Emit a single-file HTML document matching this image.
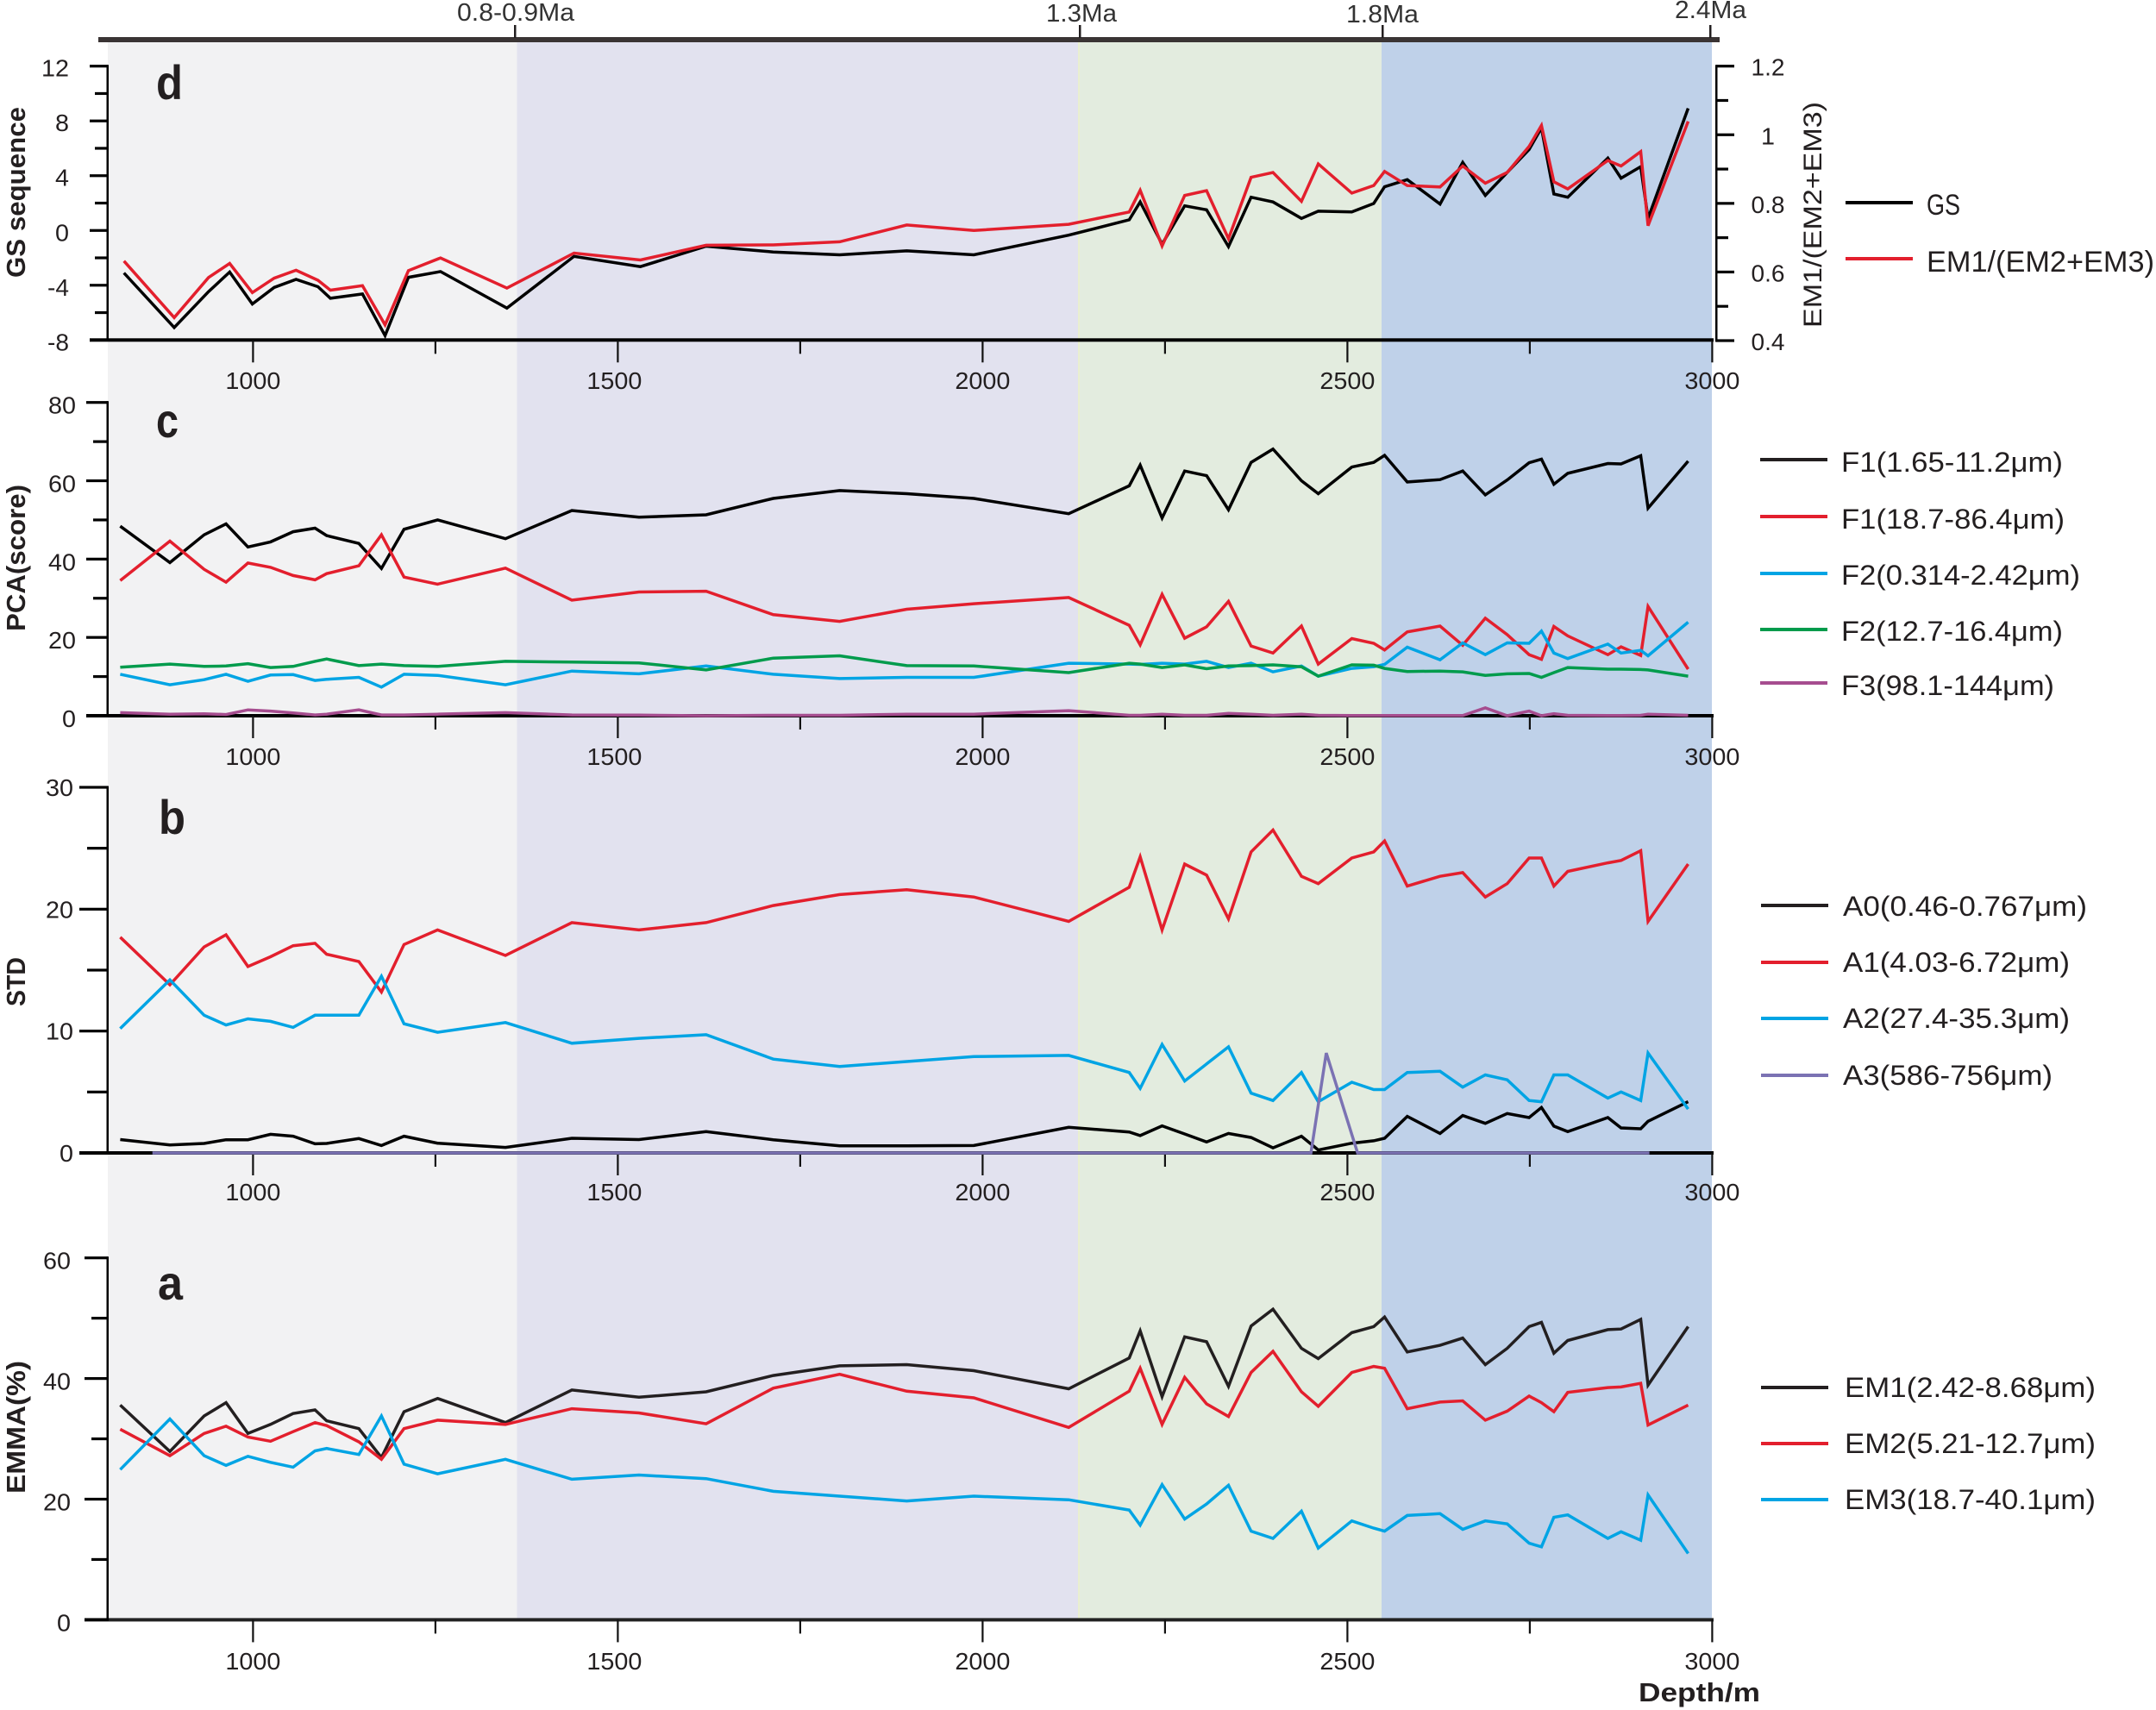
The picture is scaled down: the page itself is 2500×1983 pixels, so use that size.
<!DOCTYPE html>
<html lang="en">
<head>
<meta charset="utf-8">
<title>Grain size proxies versus depth</title>
<style>
html,body{margin:0;padding:0;background:#fff;}
svg{display:block;}
text{font-family:"Liberation Sans",sans-serif;fill:#231f20;}
.title{font-weight:bold;font-size:31px;}
.panel-letter{font-weight:bold;font-size:56px;}
.legend-text{font-size:32px;}
.top-label{font-size:29px;fill:#333;}
</style>
</head>
<body>
<svg id="chart" xmlns="http://www.w3.org/2000/svg" width="2500" height="1983" viewBox="0 0 2500 1983">
  <g>
    <rect x="125" y="49" width="474.5" height="1828" fill="#f2f2f3"/>
    <rect x="599.5" y="49" width="650.5" height="1828" fill="#e2e2ef"/>
    <rect x="1250" y="49" width="352" height="1828" fill="#e3ecdf"/>
    <rect x="1250" y="49" width="2" height="1828" fill="#e9efd0"/>
    <rect x="1602" y="49" width="383" height="1828" fill="#bfd1e9"/>
  </g>
  <g>
    <rect x="114" y="43" width="1880" height="6" fill="#3a3434"/>
    <rect x="596" y="29" width="2.5" height="15" fill="#231f20"/>
    <rect x="1251" y="29" width="2.5" height="15" fill="#231f20"/>
    <rect x="1602" y="29" width="2.5" height="15" fill="#231f20"/>
    <rect x="1982" y="29" width="2.5" height="15" fill="#231f20"/>
    <text class="top-label" x="530" y="24" textLength="136" lengthAdjust="spacingAndGlyphs">0.8-0.9Ma</text>
    <text class="top-label" x="1213" y="25" textLength="82" lengthAdjust="spacingAndGlyphs">1.3Ma</text>
    <text class="top-label" x="1561" y="26" textLength="84" lengthAdjust="spacingAndGlyphs">1.8Ma</text>
    <text class="top-label" x="1942" y="21" textLength="83" lengthAdjust="spacingAndGlyphs">2.4Ma</text>
  </g>
  <g id="plot-layer"></g>
  <g>
    <text class="title" transform="translate(29,322) rotate(-90)" textLength="198" lengthAdjust="spacingAndGlyphs">GS sequence</text>
    <text class="title" transform="translate(29,732) rotate(-90)" textLength="170" lengthAdjust="spacingAndGlyphs">PCA(score)</text>
    <text class="title" transform="translate(29,1167) rotate(-90)" textLength="57" lengthAdjust="spacingAndGlyphs">STD</text>
    <text class="title" transform="translate(29,1732) rotate(-90)" textLength="154" lengthAdjust="spacingAndGlyphs">EMMA(%)</text>
    <text font-size="30" transform="translate(2112,380) rotate(-90)" textLength="262" lengthAdjust="spacingAndGlyphs">EM1/(EM2+EM3)</text>
    <text font-size="31" font-weight="bold" x="1900" y="1973" textLength="141" lengthAdjust="spacingAndGlyphs">Depth/m</text>
  </g>
  <g>
    <text class="panel-letter" x="181" y="115" textLength="31" lengthAdjust="spacingAndGlyphs">d</text>
    <text class="panel-letter" x="181" y="507" textLength="26" lengthAdjust="spacingAndGlyphs">c</text>
    <text class="panel-letter" x="184" y="967" textLength="31" lengthAdjust="spacingAndGlyphs">b</text>
    <text class="panel-letter" x="183" y="1507" textLength="29" lengthAdjust="spacingAndGlyphs">a</text>
  </g>
  <g>
    <rect x="2140" y="233" width="78" height="4" fill="#000"/>
    <text font-size="34" x="2234" y="249" textLength="39" lengthAdjust="spacingAndGlyphs">GS</text>
    <rect x="2140" y="298" width="78" height="4" fill="#e31f2d"/>
    <text font-size="34" x="2234" y="315" textLength="264" lengthAdjust="spacingAndGlyphs">EM1/(EM2+EM3)</text>
  </g>
  <g>
    <rect x="2041" y="531" width="78" height="4" fill="#231f20"/>
    <text class="legend-text" x="2135" y="547" textLength="257" lengthAdjust="spacingAndGlyphs">F1(1.65-11.2μm)</text>
    <rect x="2041" y="597" width="78" height="4" fill="#e31f2d"/>
    <text class="legend-text" x="2135" y="613" textLength="259" lengthAdjust="spacingAndGlyphs">F1(18.7-86.4μm)</text>
    <rect x="2041" y="663" width="78" height="4" fill="#00a4e4"/>
    <text class="legend-text" x="2135" y="678" textLength="277" lengthAdjust="spacingAndGlyphs">F2(0.314-2.42μm)</text>
    <rect x="2041" y="728" width="78" height="4" fill="#009b4c"/>
    <text class="legend-text" x="2135" y="743" textLength="257" lengthAdjust="spacingAndGlyphs">F2(12.7-16.4μm)</text>
    <rect x="2041" y="790" width="78" height="4" fill="#a64d8f"/>
    <text class="legend-text" x="2135" y="806" textLength="247" lengthAdjust="spacingAndGlyphs">F3(98.1-144μm)</text>
  </g>
  <g>
    <rect x="2042" y="1048" width="78" height="4" fill="#231f20"/>
    <text class="legend-text" x="2137" y="1062" textLength="283" lengthAdjust="spacingAndGlyphs">A0(0.46-0.767μm)</text>
    <rect x="2042" y="1114" width="78" height="4" fill="#e31f2d"/>
    <text class="legend-text" x="2137" y="1127" textLength="263" lengthAdjust="spacingAndGlyphs">A1(4.03-6.72μm)</text>
    <rect x="2042" y="1179" width="78" height="4" fill="#00a4e4"/>
    <text class="legend-text" x="2137" y="1192" textLength="263" lengthAdjust="spacingAndGlyphs">A2(27.4-35.3μm)</text>
    <rect x="2042" y="1245" width="78" height="4" fill="#7b72b3"/>
    <text class="legend-text" x="2137" y="1258" textLength="243" lengthAdjust="spacingAndGlyphs">A3(586-756μm)</text>
  </g>
  <g>
    <rect x="2042" y="1607" width="78" height="4" fill="#231f20"/>
    <text class="legend-text" x="2139" y="1620" textLength="291" lengthAdjust="spacingAndGlyphs">EM1(2.42-8.68μm)</text>
    <rect x="2042" y="1672" width="78" height="4" fill="#e31f2d"/>
    <text class="legend-text" x="2139" y="1685" textLength="291" lengthAdjust="spacingAndGlyphs">EM2(5.21-12.7μm)</text>
    <rect x="2042" y="1737" width="78" height="4" fill="#00a4e4"/>
    <text class="legend-text" x="2139" y="1750" textLength="291" lengthAdjust="spacingAndGlyphs">EM3(18.7-40.1μm)</text>
  </g>
</svg>
<script>
const depth = [818,886,933,963,993,1024,1055,1085,1101,1145,1176,1207,1253,1346,1437,1529,1621,1713,1804,1896,1988,2118,2201,2216,2246,2277,2307,2337,2368,2398,2437,2460,2506,2536,2551,2582,2627,2658,2689,2719,2749,2766,2783,2802,2857,2875,2902,2912,2967];
const depthD = [823,892,939,968,999,1029,1059,1089,1106,1150,1181,1213,1257,1348,1440,1531,1621,1713,1804,1896,1988,2118,2201,2216,2246,2277,2307,2337,2368,2398,2437,2460,2506,2536,2551,2582,2627,2658,2689,2719,2749,2766,2783,2802,2857,2875,2902,2912,2967];
const depthA3 = [862,2450,2471,2514,2914];

const gsSeq = [-3.1,-7.09,-4.47,-3.04,-5.37,-4.16,-3.57,-4.11,-4.95,-4.64,-7.68,-3.42,-3.0,-5.67,-1.89,-2.64,-1.15,-1.57,-1.78,-1.49,-1.78,-0.34,0.78,2.08,-1.0,1.8,1.51,-1.18,2.43,2.08,0.88,1.41,1.36,1.97,3.19,3.71,1.93,4.97,2.56,4.24,5.92,7.49,2.67,2.43,5.29,3.82,4.66,0.88,8.92];
const emRatio = [0.632,0.467,0.584,0.625,0.54,0.582,0.605,0.576,0.547,0.56,0.446,0.604,0.641,0.553,0.655,0.635,0.678,0.679,0.688,0.737,0.721,0.739,0.775,0.838,0.676,0.823,0.837,0.697,0.876,0.89,0.806,0.915,0.83,0.852,0.893,0.852,0.848,0.909,0.859,0.89,0.966,1.027,0.863,0.842,0.925,0.909,0.951,0.735,1.039];

const f1Fine = [48.4,39.1,46.2,49.0,43.1,44.4,47.0,47.9,46.0,44.0,37.6,47.6,50.0,45.2,52.4,50.7,51.3,55.5,57.5,56.7,55.5,51.6,58.7,64.0,50.5,62.5,61.3,52.6,64.7,68.1,60.0,56.7,63.5,64.7,66.5,59.7,60.3,62.5,56.4,60.2,64.6,65.5,59.1,61.9,64.4,64.3,66.4,53.0,65.0];
const f1Coarse = [34.5,44.6,37.4,34.1,39.0,37.9,35.8,34.7,36.3,38.3,46.2,35.4,33.6,37.7,29.5,31.6,31.8,25.8,24.1,27.2,28.6,30.2,23.1,18.1,31.0,19.8,22.7,29.2,17.8,16.0,22.9,13.2,19.7,18.5,16.8,21.4,22.9,18.0,24.9,20.7,15.6,14.4,22.8,20.4,15.6,17.6,15.4,27.9,11.9];
const f2Fine = [10.6,7.9,9.2,10.6,8.8,10.4,10.5,9.0,9.3,9.8,7.3,10.6,10.3,7.9,11.4,10.7,12.7,10.6,9.5,9.8,9.8,13.4,13.2,13.1,13.4,13.2,13.9,12.3,13.4,11.2,12.7,10.1,12.1,12.5,13.1,17.5,14.3,18.6,15.6,18.6,18.5,21.6,16.0,14.6,18.3,16.0,16.7,15.3,23.9];
const f2Medium = [12.4,13.2,12.6,12.7,13.3,12.3,12.6,13.9,14.5,12.8,13.2,12.8,12.6,13.9,13.7,13.5,11.7,14.7,15.3,12.8,12.7,11.0,13.4,13.2,12.3,13.0,12.0,12.7,12.8,13.0,12.5,10.1,13.0,12.9,12.1,11.3,11.4,11.2,10.3,10.7,10.8,9.8,11.0,12.3,11.9,11.9,11.8,11.7,10.1];
const f3 = [0.8,0.4,0.5,0.3,1.5,1.2,0.7,0.2,0.4,1.5,0.2,0.2,0.4,0.8,0.2,0.15,0,0.1,0.1,0.4,0.4,1.3,0.1,0.1,0.4,0.1,0.1,0.6,0.4,0.1,0.4,0.1,0.05,0.05,0.05,0.05,0.05,0.05,2.0,0,1.2,0,0.5,0.1,0.05,0.05,0.1,0.4,0.1];

const a0 = [1.1,0.66,0.78,1.08,1.08,1.53,1.37,0.75,0.78,1.18,0.61,1.37,0.8,0.45,1.2,1.1,1.75,1.08,0.59,0.59,0.61,2.1,1.72,1.42,2.22,1.56,0.9,1.6,1.27,0.42,1.37,0.24,0.8,1.0,1.2,3.0,1.6,3.07,2.43,3.23,2.9,3.73,2.2,1.75,2.9,2.05,1.98,2.6,4.2];
const a1 = [17.7,13.8,16.9,17.9,15.3,16.1,17.0,17.2,16.3,15.7,13.2,17.1,18.3,16.2,18.9,18.3,18.9,20.3,21.2,21.6,21.0,19.0,21.8,24.3,18.3,23.7,22.8,19.2,24.7,26.5,22.7,22.1,24.2,24.7,25.6,21.9,22.7,23.0,21.0,22.1,24.2,24.2,21.9,23.1,23.8,24.0,24.8,19.0,23.7];
const a2 = [10.2,14.2,11.3,10.5,11.0,10.8,10.3,11.3,11.3,11.3,14.5,10.6,9.9,10.7,9.0,9.4,9.7,7.7,7.1,7.5,7.9,8.0,6.6,5.3,8.9,5.9,7.3,8.7,4.9,4.3,6.6,4.2,5.8,5.2,5.2,6.6,6.7,5.4,6.4,6.0,4.3,4.2,6.4,6.4,4.5,5.0,4.3,8.2,3.6];
const a3 = [0,0,8.2,0,0];

const em1 = [35.6,27.9,33.8,36.0,30.9,32.4,34.2,34.8,33.0,31.7,26.9,34.5,36.7,32.7,38.1,36.9,37.8,40.5,42.1,42.3,41.3,38.3,43.4,47.9,37.0,46.9,46.1,38.7,48.7,51.5,45.0,43.3,47.6,48.6,50.2,44.4,45.5,46.7,42.3,45.0,48.6,49.3,44.2,46.3,48.1,48.2,49.8,38.9,48.6];
const em2 = [31.6,27.2,30.9,32.1,30.3,29.6,31.2,32.7,32.2,29.5,26.6,31.7,33.1,32.4,35.0,34.3,32.5,38.4,40.7,37.9,36.8,31.9,37.9,41.7,32.4,40.2,35.8,33.7,41.0,44.5,37.8,35.4,41.0,42.0,41.7,35.0,36.1,36.3,33.1,34.6,37.1,36.0,34.5,37.7,38.5,38.6,39.2,32.3,35.6];
const em3 = [24.9,33.3,27.2,25.6,27.1,26.1,25.3,28.0,28.4,27.4,33.8,25.8,24.2,26.6,23.3,24.0,23.4,21.3,20.5,19.7,20.5,19.9,18.2,15.7,22.4,16.7,19.2,22.3,14.7,13.5,18.0,11.9,16.4,15.2,14.7,17.3,17.6,15.0,16.4,15.9,12.7,12.1,17.0,17.4,13.5,14.6,13.2,20.7,11.0];

const xMajorLabels = ['1000','1500','2000','2500','3000'];
const xMinorTicks = [1250,1750,2250,2750];
const gsLabels = ['12','8','4','0','-4','-8'];
const gsMinor = [10,6,2,-2,-6];
const ratioLabels = ['1.2','1','0.8','0.6','0.4'];
const ratioMinor = [1.1,0.9,0.7,0.5];
const pcaLabels = ['80','60','40','20','0'];
const pcaMinor = [70,50,30,10];
const stdLabels = ['30','20','10','0'];
const stdMinor = [25,15,5];
const emmaLabels = ['60','40','20','0'];
const emmaMinor = [50,30,10];

const NS = 'http://www.w3.org/2000/svg';
const layer = document.getElementById('plot-layer');

function xScale(d) { return 293.4 + (d - 1000) * 0.846; }
function linear(v0, px0, v1, px1) { return function (v) { return px0 + (v - v0) * (px1 - px0) / (v1 - v0); }; }
function labelWidth(s) {
  let w = 0;
  for (const ch of s) { w += ch === '-' ? 9 : ch === '.' ? 7 : 16; }
  return w;
}
function make(parent, tag, props, content) {
  const el = document.createElementNS(NS, tag);
  for (const k in props) { el.setAttribute(k, props[k]); }
  if (content !== undefined) { el.textContent = content; }
  parent.appendChild(el);
  return el;
}
function tickRect(parent, x, y, w, h, color, name) {
  const el = make(parent, 'rect', { x: x, y: y, width: w, height: h, fill: color });
  
  
}
function tickLabel(parent, x, y, s, anchor, name) {
  const el = make(parent, 'text', { x: x, y: y, 'font-size': 28, 'text-anchor': anchor, textLength: labelWidth(s), lengthAdjust: 'spacingAndGlyphs' }, s);
  
  
}
function drawXAxis(panel, axisY, axisLeft, labelY, color) {
  const g = make(layer, 'g', {});
  
  
  tickRect(g, axisLeft, axisY - 2, 1987 - axisLeft, 4, color, panel + '-x-axis-line');
  xMajorLabels.forEach(function (s) {
    const x = xScale(Number(s));
    const nudge = s === '1500' ? -4 : 0;
    tickRect(g, x - 1.1, axisY, 2.2, 26, '#111', panel + '-x-tick-' + s);
    tickLabel(g, x + nudge, labelY, s, 'middle', panel + '-x-label-' + s);
  });
  xMinorTicks.forEach(function (d) {
    tickRect(g, xScale(d) - 1.1, axisY, 2.2, 16, '#111', panel + '-x-minor-tick-' + d);
  });
}
function drawYAxis(panel, yFn, topV, bottomV, labels, minors, majorLen, minorLen, labelRight, labelDy) {
  const g = make(layer, 'g', {});
  
  
  tickRect(g, 123.5, yFn(topV) - 1.5, 2.5, yFn(bottomV) - yFn(topV) + 3, '#000', panel + '-y-axis-line');
  labels.forEach(function (s) {
    const y = yFn(Number(s));
    tickRect(g, 125 - majorLen, y - 1.6, majorLen, 3.2, '#000', panel + '-y-tick-' + s);
    tickLabel(g, labelRight, y + 10 + labelDy, s, 'end', panel + '-y-label-' + s);
  });
  minors.forEach(function (v) {
    tickRect(g, 125 - minorLen, yFn(v) - 1.6, minorLen, 3.2, '#000', panel + '-y-minor-tick-' + v);
  });
}
function drawRightAxis(panel, yFn, labels, minors) {
  const g = make(layer, 'g', {});
  
  
  tickRect(g, 1989, yFn(1.2) - 1.5, 2.5, yFn(0.4) - yFn(1.2) + 3, '#000', panel + '-right-axis-line');
  labels.forEach(function (s) {
    const y = yFn(Number(s));
    tickRect(g, 1990, y - 1.6, 21, 3.2, '#000', panel + '-right-tick-' + s);
    tickLabel(g, 2050, y + 11, s, 'middle', panel + '-right-label-' + s);
  });
  minors.forEach(function (v) {
    tickRect(g, 1990, yFn(v) - 1.6, 14, 3.2, '#000', panel + '-right-minor-tick-' + v);
  });
}
function drawLine(name, xs, ys, yFn, color) {
  const pts = [];
  const n = Math.min(xs.length, ys.length);
  for (let i = 0; i < n; i++) {
    pts.push(xScale(xs[i]).toFixed(1) + ',' + yFn(ys[i]).toFixed(1));
  }
  const el = make(layer, 'polyline', { points: pts.join(' '), fill: 'none', stroke: color, 'stroke-width': 3.5, 'stroke-linejoin': 'miter' });
  
  
}

const BLACK = '#000000', DARK = '#231f20', RED = '#e31f2d', BLUE = '#00a4e4', GREEN = '#009b4c', PURPLE = '#a64d8f', VIOLET = '#7b72b3';

/* panel d */
const yGs = linear(12, 76.7, -8, 394.3);
const yRatio = linear(1.2, 76.7, 0.4, 395);
drawXAxis('panel-d', 394.3, 104, 451, '#000');
drawYAxis('panel-d', yGs, 12, -8, gsLabels, gsMinor, 21, 15, 80, 2);
drawRightAxis('panel-d', yRatio, ratioLabels, ratioMinor);
drawLine('gs-line', depthD, gsSeq, yGs, BLACK);
drawLine('em-ratio-line', depthD, emRatio, yRatio, RED);

/* panel c */
const yPca = linear(80, 466.7, 0, 830);
drawXAxis('panel-c', 830, 100, 887, '#000');
drawYAxis('panel-c', yPca, 80, 0, pcaLabels, pcaMinor, 25, 17, 88, 3);
drawLine('f1-fine-line', depth, f1Fine, yPca, BLACK);
drawLine('f1-coarse-line', depth, f1Coarse, yPca, RED);
drawLine('f2-fine-line', depth, f2Fine, yPca, BLUE);
drawLine('f2-medium-line', depth, f2Medium, yPca, GREEN);
drawLine('f3-line', depth, f3, yPca, PURPLE);

/* panel b */
const yStd = linear(30, 913, 0, 1337);
drawXAxis('panel-b', 1337, 92, 1392, '#000');
drawYAxis('panel-b', yStd, 30, 0, stdLabels, stdMinor, 33, 24, 85, 0);
drawLine('a0-line', depth, a0, yStd, BLACK);
drawLine('a1-line', depth, a1, yStd, RED);
drawLine('a2-line', depth, a2, yStd, BLUE);
drawLine('a3-line', depthA3, a3, yStd, VIOLET);

/* panel a */
const yEmma = linear(60, 1458.7, 0, 1878.4);
drawXAxis('panel-a', 1878.4, 98, 1936, '#222');
drawYAxis('panel-a', yEmma, 60, 0, emmaLabels, emmaMinor, 27, 19, 82, 3);
drawLine('em1-line', depth, em1, yEmma, DARK);
drawLine('em2-line', depth, em2, yEmma, RED);
drawLine('em3-line', depth, em3, yEmma, BLUE);
</script>
</body>
</html>
